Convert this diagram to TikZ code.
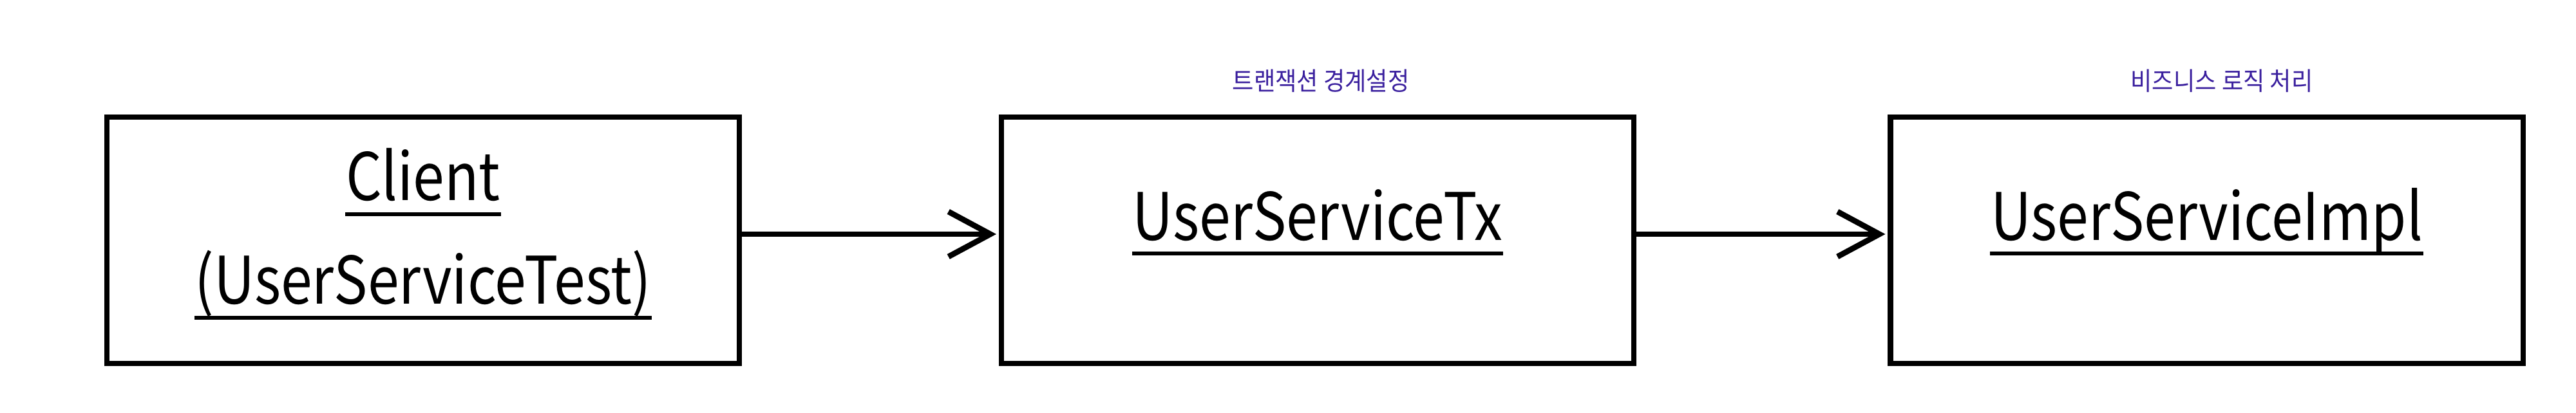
\documentclass[tikz,border=0pt]{standalone}
\usepackage{fontspec}
\setmainfont{Noto Sans CJK KR}[FakeStretch=0.86]
\newfontfamily\notefont{Noto Sans CJK KR}[FakeStretch=0.92]
\usetikzlibrary{arrows.meta}

\definecolor{NoteColor}{HTML}{3A1F9E}

\tikzset{
  classbox/.style={draw, line width=2.3pt, minimum width=9.82cm,
    minimum height=3.83cm, inner sep=0pt, outer sep=0pt},
  classname/.style={font=\fontsize{29}{34}\selectfont, inner sep=0pt, anchor=base},
  nameline/.style={line width=1.7pt},
  notetext/.style={text=NoteColor, font=\notefont\fontsize{11.2}{13}\selectfont, inner sep=0pt},
  callarrow/.style={-{Straight Barb[length=6.5mm,width=7mm]}, line width=2.5pt,
    shorten >=0.08cm}
}

\begin{document}
\begin{tikzpicture}

  %–– Marco ––
  \useasboundingbox (0,0) rectangle (40,6.42);

  %–– Parámetros ––
  \def\midY{2.685}
  \def\xClient{6.57}
  \def\xTx{20.46}
  \def\xImpl{34.265}
  \def\noteY{5.16}
  \def\lift{0.095cm}
  \def\ulDrop{-0.21cm}

  %–– Cajas ––
  \node[classbox] (client) at (\xClient,\midY) {};
  \node[classbox] (tx) at (\xTx,\midY) {};
  \node[classbox] (impl) at (\xImpl,\midY) {};

  %–– Nombres ––
  \node[classname] (clientName) at (\xClient,{\midY+0.615}) {Client};
  \node[classname] (clientTest) at (\xClient,{\midY-0.995}) {(UserServiceTest)};
  \node[classname] (txName) at (\xTx,\midY) {UserServiceTx};
  \node[classname] (implName) at (\xImpl,\midY) {UserServiceImpl};

  %–– Subrayados ––
  \foreach \n in {clientName, clientTest, txName, implName}{
    \draw[nameline] ([yshift=\ulDrop]\n.base west) -- ([yshift=\ulDrop]\n.base east);
  }

  %–– Notas encima ––
  \node[notetext] (txNote) at ({\xTx+0.05},\noteY) {트랜잭션 경계설정};
  \node[notetext] (implNote) at ({\xImpl+0.235},\noteY) {비즈니스 로직 처리};

  %–– Flechas ––
  \draw[callarrow] ([yshift=\lift]client.east) -- ([yshift=\lift]tx.west);
  \draw[callarrow] ([yshift=\lift]tx.east) -- ([yshift=\lift]impl.west);

\end{tikzpicture}
\end{document}
